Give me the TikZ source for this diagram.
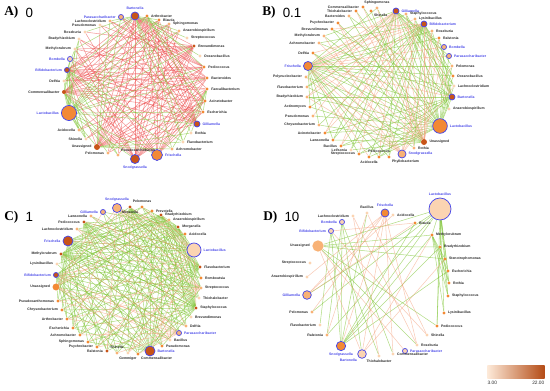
\documentclass[tikz,border=0pt]{standalone}
\usepackage{fontspec}
\setmainfont{Liberation Sans}
\newfontfamily\titlefont{Liberation Serif}
\usetikzlibrary{positioning}
\usetikzlibrary{backgrounds}

\definecolor{dkor}{RGB}{200,84,24}
\definecolor{mdor}{RGB}{243,137,52}
\definecolor{ltor}{RGB}{248,178,118}
\definecolor{plor}{RGB}{251,212,178}
\definecolor{ringc}{RGB}{72,72,232}
\definecolor{negc}{RGB}{236,74,74}
\definecolor{posc}{RGB}{126,196,52}
\definecolor{salc}{RGB}{242,150,110}
\definecolor{txtc}{RGB}{40,40,40}

\begin{document}
\begin{tikzpicture}[x=0.75pt,y=0.75pt,yscale=-1,xscale=1,
  tx/.style={circle,inner sep=0pt,minimum size=2.3pt},
  dk/.style={tx,fill=dkor}, md/.style={tx,fill=mdor},
  lt/.style={tx,fill=ltor}, pl/.style={tx,fill=plor},
  rg/.style={draw=ringc,line width=0.55pt},
  rdk/.style={dk,rg}, rmd/.style={md,rg}, rlt/.style={lt,rg}, rpl/.style={pl,rg},
  lab/.style={font=\fontsize{2.6}{3}\selectfont\bfseries,text=txtc,inner sep=0.3pt},
  blab/.style={lab,text=ringc},
  nlink/.style={draw=negc,line width=0.4pt,draw opacity=0.55},
  plink/.style={draw=posc,line width=0.4pt,draw opacity=0.6},
  slink/.style={draw=salc,line width=0.4pt,draw opacity=0.5},
  ttl/.style={font=\titlefont\fontsize{10}{12}\selectfont\bfseries,inner sep=0pt,anchor=west},
  num/.style={font=\fontsize{10}{12}\selectfont,inner sep=0pt},
  keylab/.style={font=\fontsize{3.6}{4}\selectfont,text=txtc,inner sep=0.3pt}
]
\useasboundingbox (0,0) rectangle (550,391);

% Panel A
\node[ttl] (ta) at (4,12.5) {A)};
\node[num,right=5pt of ta] (na) {0};
\foreach \k/\x/\y/\st/\sz/\dir/\lb/\nm in {
  1/135/16/rdk/6/above/blab/Bartonella, 2/147/16/md/2.3/right/lab/Arthrobacter,
  3/159/20/md/2.3/right/lab/Blautia, 4/169/24/lt/2.3/right/lab/Sphingomonas,
  5/179/31/lt/2.3/right/lab/Anaerobiospirillum, 6/187/38/pl/2.3/right/lab/Streptococcus,
  7/194/46/dk/2.6/right/lab/Brevundimonas, 8/200/56/pl/2.3/right/lab/Oceanobacillus,
  9/204/67/md/2.6/right/lab/Pediococcus, 10/207/78/md/2.6/right/lab/Bacteroides,
  11/207/89/md/2.6/right/lab/Faecalibacterium, 12/205/101/md/2.6/right/lab/Acinetobacter,
  13/203/112/md/2.6/right/lab/Escherichia, 14/197/124/rdk/4.5/right/blab/Gilliamella,
  15/191/133/pl/2.3/right/lab/Rothia, 16/183/142/pl/2.3/right/lab/Flavobacterium,
  17/172/149/lt/2.3/right/lab/Achromobacter, 18/157/155/rmd/8.2/right/blab/Frischella,
  19/135/159/rdk/6.8/below/blab/Snodgrassella, 20/118/155/lt/2.3/above right/lab/Pseudoxanthobacter,
  21/108/153/lt/2.3/left/lab/Pelomonas, 22/97/147/dk/4.5/left/lab/Unassigned,
  23/86/139/pl/2.3/left/lab/Shinella, 24/79/130/lt/2.3/left/lab/Acidocella,
  25/69/113/rmd/11.3/left/blab/Lactobacillus, 26/64/92/dk/3/left/lab/Commensalibacter,
  27/64/81/pl/2.3/left/lab/Delftia, 28/67/70/rdk/3.8/left/blab/Bifidobacterium,
  29/70/59/rpl/3.8/left/blab/Bombella, 30/75/49/pl/2.3/left/lab/Methylorubrum,
  31/79/39/pl/2.3/left/lab/Bradyrhizobium, 32/85/32/pl/2.3/left/lab/Roseburia,
  33/100/25/pl/2.3/left/lab/Pseudomonas, 34/110/21/lt/2.3/left/lab/Lachnoclostridium,
  35/121/17/rlt/3.8/left/blab/Parasaccharibacter}
{
  \node[\st,minimum size=\sz pt] (a\k) at (\x,\y) {};
  \node[\lb,\dir=1.2pt of a\k] (la\k) {\nm};
}

% Panel B
\node[ttl] (tb) at (262,12.5) {B)};
\node[num,right=5pt of tb] (nb) {0.1};
\foreach \k/\x/\y/\st/\sz/\dir/\lb/\nm in {
  1/377/8/lt/2.3/above/lab/Sphingomonas, 2/396/11/rdk/4.5/right/blab/Gilliamella,
  3/406/14/lt/2.3/right/lab/Staphylococcus, 4/415/19/lt/2.3/right/lab/Lysinibacillus,
  5/424/24/rdk/4.5/right/blab/Bifidobacterium, 6/432/31/lt/2.3/right/lab/Roseburia,
  7/439/38/md/2.3/right/lab/Ralstonia, 8/444/47/rlt/3.8/right/blab/Bombella,
  9/449/56/rlt/3.8/right/blab/Parasaccharibacter, 10/452/66/lt/2.3/right/lab/Pelomonas,
  11/453/76/md/2.3/right/lab/Oceanobacillus, 12/454/86/pl/2.3/right/lab/Lachnoclostridium,
  13/452/97/rdk/4.5/right/blab/Bartonella, 14/449/109/pl/2.3/right/lab/Anaerobiospirillum,
  15/440/126/rmd/11/right/blab/Lactobacillus, 16/424/142/dk/4.5/right/lab/Unassigned,
  17/414/148/lt/2.3/right/lab/Rothia, 18/402/154/rlt/6/right/blab/Snodgrassella,
  19/389/157/md/2.3/below right/lab/Phyllobacterium, 20/379/157/md/2.3/above/lab/Pediococcus,
  21/369/157/md/2.3/below/lab/Acidocella, 22/359/154/md/2.3/left/lab/Streptococcus,
  23/351/150/pl/2.3/left/lab/Leifsonia, 24/341/146/md/2.3/left/lab/Bacillus,
  25/333/140/md/2.3/left/lab/Lawsonella, 26/325/133/md/2.3/left/lab/Acinetobacter,
  27/319/125/lt/2.3/left/lab/Chryseobacterium, 28/313/116/lt/2.3/left/lab/Pseudomonas,
  29/310/107/md/2.3/left/lab/Actinomyces, 30/307/97/lt/2.3/left/lab/Bradyrhizobium,
  31/307/87/lt/2.3/left/lab/Flavobacterium, 32/306/77/lt/2.3/left/lab/Polynucleobacter,
  33/308/66/rmd/6.8/left/blab/Frischella, 34/313/53/md/2.3/left/lab/Delftia,
  35/319/43/lt/2.3/left/lab/Achromobacter, 36/324/36/lt/2.3/left/lab/Methylorubrum,
  37/332/29/md/2.3/left/lab/Brevundimonas, 38/338/23/md/2.3/left/lab/Psychrobacter,
  39/349/16/lt/2.3/left/lab/Bacteroides, 40/356/11/md/2.3/left/lab/Thiohalobacter,
  41/363/7/md/2.3/left/lab/Commensalibacter, 42/371/11/md/2.3/below right/lab/Shinella}
{
  \node[\st,minimum size=\sz pt] (b\k) at (\x,\y) {};
  \node[\lb,\dir=1.2pt of b\k] (lb\k) {\nm};
}

% Panel C
\node[ttl] (tc) at (4,217) {C)};
\node[num,right=5pt of tc] (nc) {1};
\foreach \k/\x/\y/\st/\sz/\dir/\lb/\nm in {
  1/117/208/rlt/6.8/above/blab/Snodgrassella, 2/130/207/dk/2.6/below/lab/Moraxella,
  3/142/207/md/2.3/above/lab/Pelomonas, 4/152/211/md/2.3/right/lab/Prevotella,
  5/161/215/dk/2.6/right/lab/Bradyrhizobium, 6/169/220/lt/2.3/right/lab/Anaerobiospirillum,
  7/178/227/dk/2.6/right/lab/Morganella, 8/185/234/md/2.3/right/lab/Acidocella,
  9/194/250/rpl/10.5/right/blab/Lactobacillus, 10/200/267/dk/2.6/right/lab/Flavobacterium,
  11/201/278/md/2.3/right/lab/Romboutsia, 12/201/288/lt/2.3/right/lab/Streptococcus,
  13/199/298/pl/2.3/right/lab/Thiohalobacter, 14/196/308/dk/2.6/right/lab/Staphylococcus,
  15/191/317/pl/2.3/right/lab/Brevundimonas, 16/186/326/lt/2.3/right/lab/Delftia,
  17/179/333/rlt/3.8/right/blab/Parasaccharibacter, 18/170/340/pl/2.3/right/lab/Bacillus,
  19/162/346/md/2.3/right/lab/Pseudomonas, 20/150/351/rdk/7.5/right/blab/Bartonella,
  21/138/354/md/2.3/below right/lab/Commensalibacter, 22/128/353/pl/2.3/below/lab/Gemmiger,
  23/117/353/lt/2.3/above/lab/Shinella, 24/107/351/dk/2.6/left/lab/Ralstonia,
  25/97/347/md/2.3/left/lab/Psychrobacter, 26/88/342/md/2.3/left/lab/Sphingomonas,
  27/80/335/md/2.3/left/lab/Achromobacter, 28/73/328/md/2.3/left/lab/Escherichia,
  29/67/319/md/2.3/left/lab/Arthrobacter, 30/62/310/md/2.3/left/lab/Chryseobacterium,
  31/58/301/md/2.3/left/lab/Pseudoxanthomonas, 32/56/287/md/5.2/left/lab/Unassigned,
  33/56/275/rdk/3.8/left/blab/Bifidobacterium, 34/57/264/pl/2.3/left/lab/Lysinibacillus,
  35/61/254/dk/2.6/left/lab/Methylorubrum, 36/68/241/rdk/7.5/left/blab/Frischella,
  37/77/229/lt/2.3/left/lab/Lachnoclostridium, 38/84/222/dk/2.6/left/lab/Pediococcus,
  39/91/216/lt/2.3/left/lab/Lawsonella, 40/103/212/rlt/3.8/left/blab/Gilliamella}
{
  \node[\st,minimum size=\sz pt] (c\k) at (\x,\y) {};
  \node[\lb,\dir=1.2pt of c\k] (lc\k) {\nm};
}

% Panel D
\node[ttl] (td) at (263,217) {D)};
\node[num,right=5pt of td] (nd) {10};
\foreach \k/\x/\y/\st/\sz/\dir/\lb/\nm in {
  1/440/209/rpl/16.5/above/blab/Lactobacillus, 2/415/223/md/2.3/right/lab/Blautia,
  3/432/235/md/2.3/right/lab/Methylorubrum, 4/440/247/md/2.3/right/lab/Bradyrhizobium,
  5/445/259/md/2.3/right/lab/Stenotrophomonas, 6/448/271/md/2.3/right/lab/Escherichia,
  7/449/283/md/2.3/right/lab/Rothia, 8/448/296/md/2.3/right/lab/Staphylococcus,
  9/444/313/md/2.3/right/lab/Lysinibacillus, 10/437/326/md/2.3/right/lab/Pediococcus,
  11/427/335/pl/2.3/right/lab/Shinella, 12/417/345/pl/2.3/right/lab/Roseburia,
  13/405/351/rpl/3.8/right/blab/Parasaccharibacter, 14/393/354/pl/2.3/right/lab/Commensalibacter,
  15/379/356/pl/2.3/below/lab/Thiohalobacter, 16/362/354/rpl/6.5/below left/blab/Bartonella,
  17/341/346/rmd/7/below/blab/Snodgrassella, 18/327/335/lt/2.3/left/lab/Ralstonia,
  19/320/325/pl/2.3/left/lab/Flavobacterium, 20/312/312/lt/2.3/left/lab/Pelomonas,
  21/307/295/rlt/6.5/left/blab/Gilliamella, 22/307/277/pl/2.3/left/lab/Anaerobiospirillum,
  23/310/263/pl/2.3/left/lab/Streptococcus, 24/318/246/lt/8.5/left/lab/Unassigned,
  25/331/231/rpl/3.8/left/blab/Bifidobacterium, 26/342/222/rpl/3.8/left/blab/Bombella,
  27/353/216/pl/2.3/left/lab/Lachnoclostridium, 28/367/213/pl/2.3/above/lab/Bacillus,
  29/385/213/rmd/6/above/blab/Frischella, 30/393/215/pl/2.3/right/lab/Acidocella}
{
  \node[\st,minimum size=\sz pt] (d\k) at (\x,\y) {};
  \node[\lb,\dir=1.2pt of d\k] (ld\k) {\nm};
}

% colour key
\node[rectangle,inner sep=0pt,minimum width=43pt,minimum height=10pt,left color=plor!50!white,middle color=mdor,right color=dkor!90!black] (key) at (516,372) {};
\node[keylab,below=1.5pt of key.south west,anchor=north west] (k1) {3.00};
\node[keylab,below=1.5pt of key.south east,anchor=north east] (k2) {22.00};

%Edges
\begin{scope}[on background layer]
\foreach \i/\j in {1/7,1/9,1/10,1/11,1/12,1/13,1/14,1/19,1/22,1/26,1/28,1/20,1/21,
  26/2,26/3,26/4,26/5,26/7,26/9,26/10,26/11,26/12,26/13,26/14,26/18,26/19,
  28/2,28/3,28/4,28/7,28/9,28/10,28/11,28/12,28/13,28/14,28/18,28/19,28/22,
  22/2,22/3,22/4,22/5,22/7,22/9,22/10,22/11,22/12,22/13,22/14,22/33,
  19/2,19/3,19/4,19/5,19/7,19/9,19/10,19/11,19/12,19/13,19/29,19/30,19/31,
  18/2,18/3,18/4,18/7,18/9,18/10,18/11,18/12,18/13,18/30,18/32,
  14/2,14/3,14/4,14/33,14/34,14/35,14/29,14/31,
  7/20,7/21,7/23,7/24,7/27,7/29,7/30,7/32,9/23,9/27,9/33,9/34,9/35,
  10/24,10/27,10/30,10/34,12/21,12/31,12/35}
  \draw[nlink] (a\i) -- (a\j);
\foreach \i/\j in {25/1,25/2,25/3,25/4,25/5,25/7,25/9,25/10,25/13,25/14,25/18,25/19,
  25/22,25/23,25/24,25/26,25/27,25/28,25/29,25/30,25/31,
  1/3,1/5,1/6,1/8,1/15,1/16,1/17,1/27,1/30,1/32,1/34,
  26/23,26/24,26/29,26/31,26/20,26/21,28/16,28/17,28/20,28/23,28/24,28/30,
  22/15,22/16,22/17,22/34,22/35,2/9,2/12,2/13,2/16,11/15,11/16,11/17,11/13}
  \draw[plink] (a\i) -- (a\j);

\foreach \i/\j in {15/1,15/2,15/3,15/4,15/5,15/8,15/9,15/10,15/11,15/12,15/13,15/20,15/21,
  15/22,15/24,15/26,15/28,15/30,15/32,15/33,15/34,15/36,15/38,15/40,15/41,
  33/1,33/3,33/6,33/7,33/10,33/11,33/12,33/14,33/17,33/19,33/20,33/22,33/25,33/27,33/29,
  5/10,5/11,5/12,5/14,5/17,5/19,5/20,5/21,5/23,5/25,5/27,5/29,5/31,5/35,
  13/3,13/4,13/6,13/7,13/20,13/22,13/24,13/26,13/30,13/35,13/37,13/39,
  2/8,2/9,2/11,2/12,2/14,2/19,2/23,2/25,2/31,2/36,
  16/23,16/25,16/27,16/29,16/31,16/34,16/37,16/39,16/42}
  \draw[plink] (b\i) -- (b\j);
\foreach \i/\j in {33/2,33/4,33/5,33/8,33/9,33/13,33/16,33/18,33/21,
  2/13,2/16,2/17,2/20,2/22,2/24,2/26,2/28,2/30,2/32,
  16/1,16/3,16/5,16/6,16/7,16/8,16/35,16/38,16/40,16/41,
  18/4,18/6,18/7,18/10,18/12,18/30,18/32,18/34,18/36,18/38,
  5/13,5/24,5/26,5/30,5/34,5/37}
  \draw[slink] (b\i) -- (b\j);

\foreach \i/\j in {7/1,7/3,7/5,7/9,7/10,7/12,7/14,7/16,7/18,7/20,7/22,7/24,7/26,7/28,
  7/30,7/32,7/34,7/36,7/38,7/40,7/11,7/13,
  5/9,5/10,5/11,5/12,5/14,5/15,5/17,5/19,5/21,5/23,5/25,5/27,5/29,5/31,5/33,5/35,5/37,
  14/1,14/2,14/3,14/4,14/6,14/8,14/19,14/21,14/24,14/26,14/28,14/30,14/32,14/33,
  14/35,14/36,14/38,14/39,14/40,
  20/2,20/4,20/6,20/8,20/10,20/12,20/26,20/28,20/30,20/32,20/34,20/36,20/38,20/40,20/1,
  35/2,35/4,35/6,35/8,35/9,35/10,35/11,35/12,35/13,35/15,35/17,35/19,35/22,35/24,35/27,35/29,
  33/3,33/5,33/8,33/10,33/12,33/16,33/18,33/21,33/23,33/25,33/27,33/29,33/31,
  36/3,36/4,36/6,36/9,36/10,36/12,36/14,36/16,36/18,36/24,36/26,36/28,36/30,36/31,
  10/1,10/2,10/3,10/23,10/25,10/27,10/29,10/31,10/37,10/39,
  38/9,38/11,38/13,38/15,38/17,38/19,38/21,38/23,38/25,38/28,
  2/12,2/13,2/16,2/17,2/19,2/22,2/24,2/27}
  \draw[plink] (c\i) -- (c\j);
\foreach \i/\j in {9/1,9/2,9/3,9/5,9/14,9/20,9/22,9/25,9/27,9/30,9/33,9/36,9/38,
  1/8,1/10,1/12,1/16,1/18,1/24,1/28,1/32,
  12/22,12/26,12/29,12/31,12/33,12/37,12/39,
  17/21,17/23,17/25,17/27,17/29,17/31,17/33,17/35,17/37,
  32/4,32/6,32/16,32/18,32/20,32/40}
  \draw[slink] (c\i) -- (c\j);

\foreach \i/\j in {1/24,1/21,1/18,1/20,1/17,1/3,1/4,1/5,1/6,1/7,1/8,1/9,1/10,
  17/2,17/3,17/4,17/25,17/26,17/28,17/6,24/3,24/4,24/5,24/10,24/12,
  26/16,26/18,26/14,25/19,25/15,3/5,3/6,3/7,3/8,3/9,4/7,4/8,4/10}
  \draw[plink] (d\i) -- (d\j);
\foreach \i/\j in {29/21,29/17,29/16,29/20,29/14,29/12,29/22,25/2,25/11,
  24/13,24/16,27/12,27/15,21/2,21/30,16/3,16/5,28/18,28/11}
  \draw[slink] (d\i) -- (d\j);
\end{scope}

\end{tikzpicture}
\end{document}
